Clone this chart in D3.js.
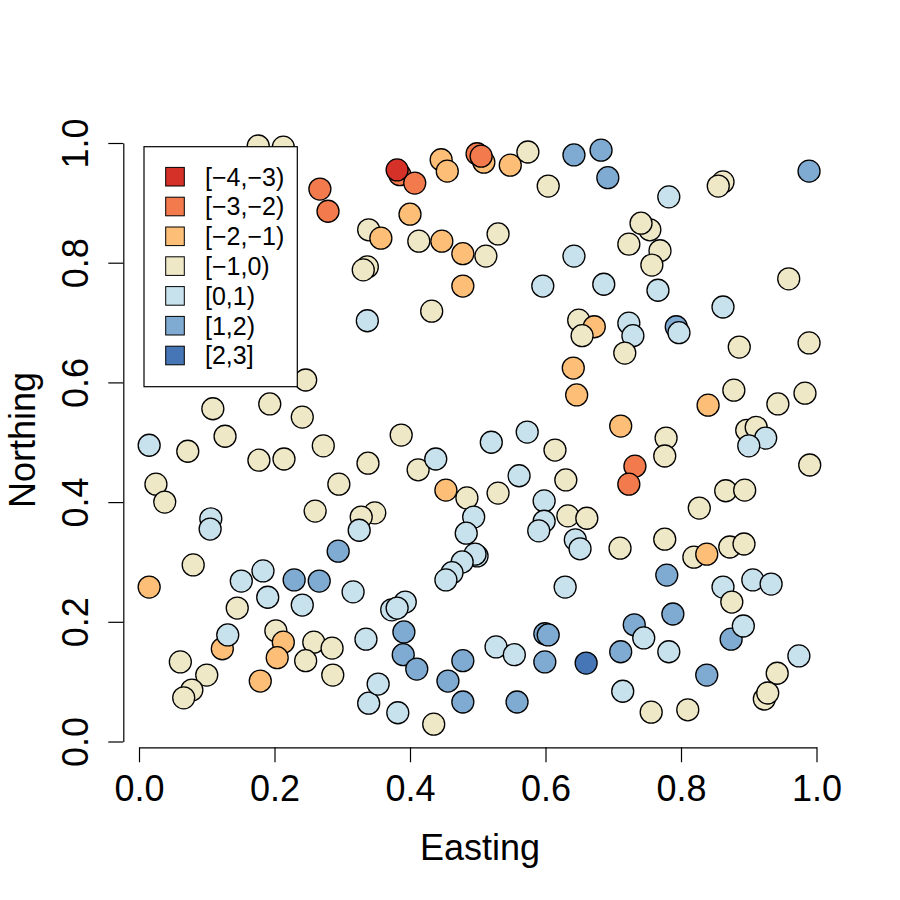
<!DOCTYPE html>
<html>
<head>
<meta charset="utf-8">
<script src="https://cdn.jsdelivr.net/npm/d3@7"></script>
<style>
  body { margin: 0; background: #fff; }
  svg { font-family: "Liberation Sans", Arial, Helvetica, sans-serif; }
</style>
</head>
<body>
<svg id="chart" width="900" height="900"></svg>
<script>
// bins of the plotted value, with their fill colours
const classLabels = ["[\u22124,\u22123)", "[\u22123,\u22122)", "[\u22122,\u22121)", "[\u22121,0)", "[0,1)", "[1,2)", "[2,3]"];
const classColors = ["#D53128", "#F37A4C", "#FDBF77", "#EEE8C6", "#C7E1ED", "#7FAAD1", "#4776B6"];

// point coordinates (Easting, Northing) and bin index
const easting = [
  0.176, 0.213, 0.267, 0.279, 0.385, 0.381, 0.407, 0.446, 0.455, 0.499,
  0.509, 0.505, 0.548, 0.574, 0.642, 0.604, 0.400, 0.339, 0.357, 0.413,
  0.447, 0.530, 0.478, 0.512, 0.337, 0.331, 0.642, 0.478, 0.596, 0.432,
  0.337, 0.649, 0.672, 0.654, 0.682, 0.692, 0.782, 0.862, 0.855, 0.989,
  0.754, 0.741, 0.723, 0.769, 0.757, 0.959, 0.686, 0.766, 0.862, 0.723,
  0.729, 0.793, 0.797, 0.886, 0.989, 0.246, 0.109, 0.193, 0.241, 0.127,
  0.015, 0.072, 0.272, 0.177, 0.214, 0.025, 0.038, 0.295, 0.260, 0.106,
  0.105, 0.641, 0.646, 0.387, 0.520, 0.573, 0.614, 0.338, 0.412, 0.438,
  0.561, 0.630, 0.453, 0.484, 0.530, 0.598, 0.494, 0.348, 0.328, 0.325,
  0.633, 0.661, 0.598, 0.590, 0.483, 0.644, 0.651, 0.717, 0.878, 0.983,
  0.840, 0.943, 0.711, 0.897, 0.911, 0.925, 0.900, 0.778, 0.776, 0.990,
  0.732, 0.723, 0.866, 0.894, 0.827, 0.776, 0.710, 0.819, 0.838, 0.872,
  0.893, 0.779, 0.862, 0.875, 0.906, 0.933, 0.788, 0.731, 0.745, 0.711,
  0.782, 0.874, 0.892, 0.974, 0.942, 0.923, 0.928, 0.838, 0.714, 0.756,
  0.810, 0.015, 0.080, 0.294, 0.151, 0.183, 0.229, 0.266, 0.190, 0.241,
  0.316, 0.145, 0.123, 0.131, 0.202, 0.213, 0.204, 0.258, 0.285, 0.246,
  0.061, 0.100, 0.286, 0.179, 0.078, 0.066, 0.335, 0.339, 0.499, 0.496,
  0.477, 0.462, 0.453, 0.629, 0.393, 0.373, 0.381, 0.391, 0.390, 0.410,
  0.478, 0.456, 0.478, 0.558, 0.527, 0.554, 0.599, 0.604, 0.599, 0.660,
  0.353, 0.382, 0.435
];
const northing = [
  0.995, 0.993, 0.923, 0.886, 0.947, 0.955, 0.933, 0.972, 0.953, 0.982,
  0.968, 0.978, 0.963, 0.985, 0.980, 0.928, 0.881, 0.855, 0.841, 0.836,
  0.836, 0.848, 0.815, 0.811, 0.793, 0.788, 0.811, 0.761, 0.761, 0.719,
  0.703, 0.704, 0.693, 0.678, 0.988, 0.942, 0.910, 0.935, 0.928, 0.953,
  0.855, 0.866, 0.831, 0.820, 0.796, 0.773, 0.764, 0.754, 0.726, 0.699,
  0.678, 0.693, 0.683, 0.659, 0.666, 0.604, 0.556, 0.564, 0.542, 0.510,
  0.495, 0.485, 0.494, 0.470, 0.472, 0.430, 0.400, 0.430, 0.385, 0.372,
  0.355, 0.624, 0.579, 0.512, 0.500, 0.517, 0.487, 0.465, 0.454, 0.472,
  0.444, 0.437, 0.420, 0.407, 0.415, 0.402, 0.375, 0.382, 0.375, 0.353,
  0.377, 0.373, 0.368, 0.352, 0.348, 0.337, 0.322, 0.649, 0.587, 0.582,
  0.562, 0.564, 0.527, 0.520, 0.525, 0.507, 0.494, 0.507, 0.477, 0.462,
  0.460, 0.430, 0.419, 0.420, 0.390, 0.338, 0.323, 0.308, 0.313, 0.325,
  0.330, 0.278, 0.258, 0.233, 0.270, 0.263, 0.213, 0.195, 0.173, 0.150,
  0.150, 0.171, 0.193, 0.143, 0.114, 0.071, 0.081, 0.111, 0.084, 0.049,
  0.053, 0.258, 0.295, 0.318, 0.268, 0.285, 0.270, 0.268, 0.241, 0.228,
  0.250, 0.223, 0.155, 0.178, 0.185, 0.166, 0.140, 0.166, 0.156, 0.135,
  0.133, 0.111, 0.111, 0.101, 0.086, 0.073, 0.171, 0.064, 0.310, 0.313,
  0.300, 0.282, 0.270, 0.258, 0.233, 0.220, 0.223, 0.183, 0.145, 0.121,
  0.135, 0.101, 0.066, 0.066, 0.158, 0.145, 0.180, 0.178, 0.133, 0.131,
  0.096, 0.048, 0.029
];
const zClass = [
  3, 3, 1, 1, 1, 0, 1, 2, 2, 1,
  2, 1, 2, 3, 5, 3, 2, 3, 2, 3,
  2, 3, 2, 3, 3, 3, 4, 2, 4, 3,
  4, 3, 2, 3, 5, 5, 4, 3, 3, 5,
  3, 3, 3, 3, 3, 3, 4, 4, 4, 4,
  4, 5, 4, 3, 3, 3, 3, 3, 3, 3,
  4, 3, 3, 3, 3, 3, 3, 3, 3, 4,
  4, 2, 2, 3, 4, 4, 3, 3, 3, 4,
  4, 3, 2, 3, 3, 4, 4, 3, 3, 4,
  3, 3, 4, 4, 4, 4, 4, 3, 3, 3,
  2, 3, 2, 3, 3, 4, 4, 3, 3, 3,
  1, 1, 3, 3, 3, 3, 3, 3, 2, 3,
  3, 5, 4, 3, 4, 4, 5, 5, 4, 5,
  4, 5, 4, 4, 3, 3, 3, 5, 4, 3,
  3, 2, 3, 5, 4, 4, 5, 5, 4, 4,
  4, 3, 2, 4, 3, 2, 2, 3, 3, 3,
  3, 3, 3, 2, 3, 3, 4, 4, 4, 4,
  4, 4, 4, 4, 4, 4, 4, 5, 5, 5,
  5, 5, 5, 5, 4, 4, 5, 5, 5, 6,
  4, 4, 3
];

const xTicks = [0, 0.2, 0.4, 0.6, 0.8, 1.0];
const yTicks = [0, 0.2, 0.4, 0.6, 0.8, 1.0];

const svg = d3.select("#chart");

const x = d3.scaleLinear().domain([0, 1]).range([139, 816.5]);
const y = d3.scaleLinear().domain([0, 1]).range([741.5, 143]);
const axisY0 = 747.3;   // where the bottom axis line sits
const axisX0 = 123.3;   // where the left axis line sits

const points = easting.map((e, i) => ({ e: e, n: northing[i], c: zClass[i] }));

// points
svg.append("g")
  .selectAll("circle")
  .data(points)
  .enter().append("circle")
    .attr("cx", d => x(d.e))
    .attr("cy", d => y(d.n))
    .attr("r", 11)
    .attr("fill", d => classColors[d.c])
    .attr("stroke", "#000")
    .attr("stroke-width", 1.3);

// bottom axis
const gx = svg.append("g")
  .attr("transform", "translate(0," + axisY0 + ")")
  .call(d3.axisBottom(x).tickValues(xTicks).tickFormat(d3.format(".1f"))
    .tickSize(15).tickSizeOuter(0).tickPadding(13));
gx.selectAll("text").attr("font-size", 36).attr("fill", "#000")
  .attr("font-family", "'Liberation Sans', Arial, sans-serif");
gx.selectAll("line, path").attr("stroke", "#000").attr("stroke-width", 1.2);

// left axis, labels turned like R's default
const gy = svg.append("g")
  .attr("transform", "translate(" + axisX0 + ",0)")
  .call(d3.axisLeft(y).tickValues(yTicks).tickFormat(d3.format(".1f"))
    .tickSize(15).tickSizeOuter(0));
gy.selectAll("line, path").attr("stroke", "#000").attr("stroke-width", 1.2);
gy.selectAll("text")
  .attr("x", null).attr("dy", null)
  .attr("transform", "translate(-35,0) rotate(-90)")
  .attr("text-anchor", "middle")
  .attr("font-size", 36).attr("fill", "#000")
  .attr("font-family", "'Liberation Sans', Arial, sans-serif");

// axis titles
svg.append("text")
  .attr("x", 480).attr("y", 860)
  .attr("text-anchor", "middle")
  .attr("font-size", 36)
  .text("Easting");

svg.append("text")
  .attr("transform", "translate(35,440) rotate(-90)")
  .attr("text-anchor", "middle")
  .attr("font-size", 36)
  .text("Northing");

// legend (drawn over the points, white box)
const legend = svg.append("g");
legend.append("rect")
  .attr("x", 144).attr("y", 146.7)
  .attr("width", 153.3).attr("height", 240)
  .attr("fill", "#fff").attr("stroke", "#000").attr("stroke-width", 1.2);

const rows = legend.selectAll("g.row")
  .data(classLabels)
  .enter().append("g")
    .attr("class", "row")
    .attr("transform", (d, i) => "translate(0," + (176.7 + i * 29.8) + ")");
rows.append("rect")
  .attr("x", 165.7).attr("y", -9.3)
  .attr("width", 18.6).attr("height", 18.6)
  .attr("fill", (d, i) => classColors[i])
  .attr("stroke", "#000").attr("stroke-width", 1);
rows.append("text")
  .attr("x", 205).attr("y", 8.8)
  .attr("font-size", 25)
  .text(d => d);
</script>
</body>
</html>
